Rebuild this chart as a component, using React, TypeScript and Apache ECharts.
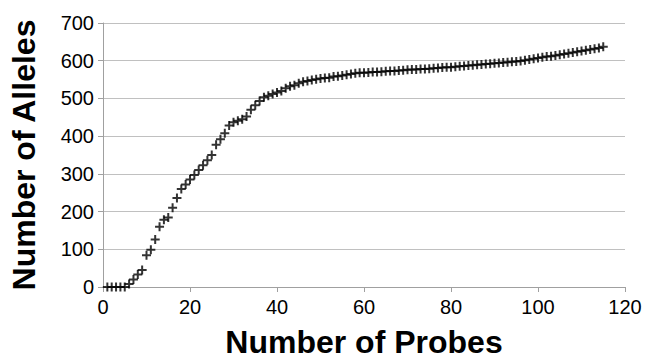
import React, { useEffect, useRef } from "react";
import * as echarts from "echarts";

// Number of alleles detected for 1..115 probes
const alleles: number[] = [
  0, 0, 0, 0, 0, 8, 20, 33, 45, 84,
  99, 126, 160, 178, 184, 210, 236, 260, 272, 285,
  297, 310, 323, 336, 350, 377, 392, 408, 428, 437,
  441, 445, 452, 470, 482, 493, 503, 507, 512, 516,
  520, 527, 532, 535, 540, 544, 546, 549, 551, 553,
  554, 555, 558, 559, 561, 563, 565, 567, 568, 568,
  569, 570, 570, 571, 572, 573, 573, 574, 575, 576,
  577, 577, 578, 578, 579, 580, 581, 582, 583, 583,
  584, 585, 586, 587, 588, 589, 590, 591, 592, 593,
  594, 595, 596, 597, 598, 599, 601, 603, 605, 607,
  609, 611, 612, 614, 616, 618, 620, 622, 624, 626,
  628, 630, 632, 634, 637,
];

const xTitle = "Number of Probes";
const yTitle = "Number of Alleles";

const FONT = "'Liberation Sans', Arial, sans-serif";
const PLUS = "path://M3.5,0h2v3.5h3.5v2h-3.5v3.5h-2v-3.5h-3.5v-2h3.5z";

export default function App() {
  const ref = useRef<HTMLDivElement>(null);
  useEffect(() => {
    const chart = echarts.init(ref.current!, null, { renderer: "svg" });
    const points = alleles.map((v, i) => [i + 1, v]);
    chart.setOption({
      animation: false,
      backgroundColor: "#ffffff",
      grid: { left: 100, right: 20, top: 23, bottom: 74, containLabel: false },
      xAxis: {
        type: "value",
        min: 0,
        max: 120,
        interval: 20,
        axisLine: { show: true, lineStyle: { color: "#a0a0a0", width: 1 } },
        axisTick: { show: true, length: 5, lineStyle: { color: "#a0a0a0" } },
        splitLine: { show: false },
        axisLabel: { fontSize: 20, color: "#000", fontFamily: FONT, margin: 10 },
        name: xTitle,
        nameLocation: "middle",
        nameGap: 55,
        nameTextStyle: {
          fontSize: 32,
          fontWeight: "bold",
          fontFamily: FONT,
          color: "#000",
          verticalAlign: "middle",
        },
      },
      yAxis: {
        type: "value",
        min: 0,
        max: 700,
        interval: 100,
        axisLine: { show: true, lineStyle: { color: "#a0a0a0", width: 1 } },
        axisTick: { show: true, length: 5, lineStyle: { color: "#a0a0a0" } },
        splitLine: { show: true, lineStyle: { color: "#c0c0c0", width: 1 } },
        axisLabel: { fontSize: 20, color: "#000", fontFamily: FONT, margin: 9 },
        name: yTitle,
        nameLocation: "middle",
        nameGap: 79,
        nameRotate: 90,
        nameTextStyle: {
          fontSize: 32,
          fontWeight: "bold",
          fontFamily: FONT,
          color: "#000",
          verticalAlign: "middle",
        },
      },
      series: [
        {
          type: "scatter",
          data: points,
          symbol: PLUS,
          symbolSize: 9,
          itemStyle: { color: "#000" },
        },
      ],
    });
    return () => chart.dispose();
  }, []);
  return (
    <div
      ref={ref}
      style={{ position: "absolute", left: 0, top: 0, width: 645, height: 363, background: "#fff" }}
    />
  );
}
